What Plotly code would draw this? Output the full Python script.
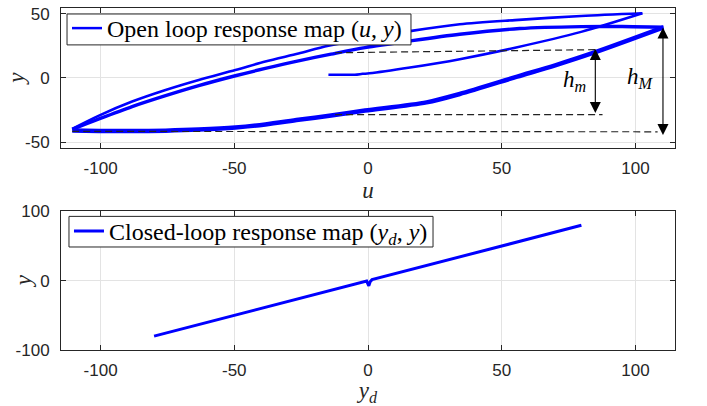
import plotly.graph_objects as go

# ---------------- data: top panel (open loop hysteresis) ----------------
u_init = [-14.8, -4.9, -2.0, 0.5, 15.7, 34.3, 55.0, 79.7, 102.6]
y_init = [2.5, 2.5, 3.2, 3.6, 8.1, 14.6, 23.5, 35.8, 50.3]

u_first_down = [102.6, 79.7, 55.0, 34.3, 16.3, -14.8, -26.0, -38.4, -49.6, -63.3, -75.7, -88.2, -100.6, -110.6]
y_first_down = [50.3, 48.2, 45.0, 41.8, 36.6, 25.0, 19.0, 12.8, 6.1, -1.6, -9.4, -18.4, -29.3, -39.6]

u_lower = [-110.6, -100.6, -88.2, -75.7, -63.3, -49.6, -38.4, -26.0, -13.8, -1.1, 21.9, 34.3, 55.8, 70.0, 84.7, 110.5]
y_lower = [-40.8, -41.2, -41.3, -41.0, -40.2, -38.6, -36.2, -32.6, -29.2, -25.4, -19.0, -12.5, 1.0, 9.8, 19.8, 39.3]

u_upper = [110.5, 95.0, 79.7, 56.7, 34.3, 15.7, -1.1, -13.8, -26.0, -38.4, -49.6, -63.3, -75.7, -88.2, -100.6, -110.6]
y_upper = [39.4, 40.0, 39.9, 38.4, 34.0, 28.8, 23.6, 18.5, 13.3, 7.4, 1.7, -6.0, -13.8, -22.3, -31.9, -40.0]

# dashed guide lines
u_d1 = [-12.3, 86.0]
y_d1 = [19.6, 22.0]
u_d2 = [-12.3, 87.7]
y_d2 = [-28.5, -28.5]
u_d3 = [-110.6, 108.3]
y_d3 = [-41.6, -41.9]

# double arrows (u, y_top, y_bottom)
arrow_hm = (85.0, 22.5, -28.4)
arrow_hM = (110.3, 39.3, -45.5)

# ---------------- data: bottom panel (closed loop) ----------------
yd_cl = [-80.0, -40.0, -0.5, 0.3, 0.8, 1.5, 40.0, 79.8]
y_cl = [-80.0, -40.0, -0.5, -7.5, -1.5, 1.5, 40.0, 80.0]

x_ticks = [-100, -50, 0, 50, 100]
x_ticktext = ["-100", "-50", "0", "50", "100"]
y_ticks_top = [-50, 0, 50]
y_ticktext_top = ["-50", "0", "50"]
y_ticks_bot = [-100, 0, 100]
y_ticktext_bot = ["-100", "0", "100"]

BLUE = "#0000ff"
AX = "#262626"
GRID = "#e3e3e3"

fig = go.Figure()

# top panel traces
fig.add_trace(go.Scatter(
    x=u_init, y=y_init, mode="lines",
    line=dict(color=BLUE, width=2.5, shape="spline", smoothing=0.8),
    name="Open loop response map (<i>u</i>, <i>y</i>)",
    xaxis="x", yaxis="y", legend="legend"))
fig.add_trace(go.Scatter(x=u_first_down, y=y_first_down, mode="lines",
                         line=dict(color=BLUE, width=2.6, shape="spline", smoothing=0.8),
                         showlegend=False, xaxis="x", yaxis="y"))
fig.add_trace(go.Scatter(x=u_lower, y=y_lower, mode="lines",
                         line=dict(color=BLUE, width=4.5, shape="spline", smoothing=0.8),
                         showlegend=False, xaxis="x", yaxis="y"))
fig.add_trace(go.Scatter(x=u_upper, y=y_upper, mode="lines",
                         line=dict(color=BLUE, width=3.4, shape="spline", smoothing=0.8),
                         showlegend=False, xaxis="x", yaxis="y"))
for ux, yy in [(u_d1, y_d1), (u_d2, y_d2), (u_d3, y_d3)]:
    fig.add_trace(go.Scatter(x=ux, y=yy, mode="lines",
                             line=dict(color="#222222", width=1.2, dash="7px,4px"),
                             showlegend=False, xaxis="x", yaxis="y"))

# bottom panel trace
fig.add_trace(go.Scatter(
    x=yd_cl, y=y_cl, mode="lines", line=dict(color=BLUE, width=3),
    name="Closed-loop response map (<i>y</i><sub><i>d</i></sub>, <i>y</i>)",
    xaxis="x2", yaxis="y2", legend="legend2"))

# arrows
for (ua, yt, yb) in [arrow_hm, arrow_hM]:
    fig.add_annotation(x=ua, y=yt, ax=ua, ay=yb, xref="x", yref="y",
                       axref="x", ayref="y", showarrow=True, text="",
                       arrowhead=2, arrowside="end+start", arrowsize=2.0,
                       arrowwidth=1.1, arrowcolor="black")

lab_font = dict(family="Liberation Serif", size=23, color="black")
fig.add_annotation(x=77.2, y=-2.2, xref="x", yref="y", showarrow=False,
                   text="<i>h</i><sub><i>m</i></sub>", font=lab_font)
fig.add_annotation(x=101.9, y=0.0, xref="x", yref="y", showarrow=False,
                   text="<i>h</i><sub><i>M</i></sub>", font=lab_font)

tick_font = dict(family="Liberation Sans", size=17, color=AX)
title_font = dict(family="Liberation Serif", size=23, color=AX)

# y-axis titles placed as annotations (paper coords)
fig.add_annotation(x=-0.0717, y=0.796, xref="paper", yref="paper", showarrow=False,
                   xanchor="center", yanchor="middle",
                   text="<i>y</i>", textangle=-90, font=title_font)
fig.add_annotation(x=-0.0619, y=0.204, xref="paper", yref="paper", showarrow=False,
                   xanchor="center", yanchor="middle",
                   text="<i>y</i>", textangle=-90, font=title_font)

# legend boxes (white, bordered, covering the curves like the original)
fig.add_shape(type="rect", xref="paper", yref="paper", x0=0.0098, x1=0.570,
              y0=0.8921, y1=0.9825, fillcolor="white", line=dict(color=AX, width=1),
              layer="above")
fig.add_shape(type="rect", xref="paper", yref="paper", x0=0.013, x1=0.6059,
              y0=0.3012, y1=0.3907, fillcolor="white", line=dict(color=AX, width=1),
              layer="above")

common_x = dict(range=[-114.8, 114.8], tickvals=x_ticks, ticktext=x_ticktext,
                ticks="inside", ticklen=5, tickcolor=AX, showline=True, linecolor=AX,
                linewidth=1, mirror="ticks", showgrid=True, gridcolor=GRID, gridwidth=1,
                zeroline=False, tickfont=tick_font, automargin=False,
                ticklabelstandoff=5)
common_y = dict(ticks="inside", ticklen=5, tickcolor=AX, showline=True, linecolor=AX,
                linewidth=1, mirror="ticks", showgrid=True, gridcolor=GRID, gridwidth=1,
                zeroline=False, tickfont=tick_font, automargin=False,
                ticklabelstandoff=7)

leg_font = dict(family="Liberation Serif", size=24, color="black")

fig.update_layout(
    width=707, height=406,
    margin=dict(l=61, r=32, t=7, b=56),
    paper_bgcolor="white", plot_bgcolor="white",
    xaxis=dict(common_x, domain=[0, 1], anchor="y",
               title=dict(text="<i>u</i>", font=title_font, standoff=0)),
    yaxis=dict(common_y, domain=[0.5918, 1], anchor="x", range=[-54.2, 54.4],
               tickvals=y_ticks_top, ticktext=y_ticktext_top),
    xaxis2=dict(common_x, domain=[0, 1], anchor="y2",
                title=dict(text="<i>y</i><sub><i>d</i></sub>", font=title_font, standoff=0)),
    yaxis2=dict(common_y, domain=[0, 0.4052], anchor="x2", range=[-100, 100],
                tickvals=y_ticks_bot, ticktext=y_ticktext_bot),
    legend=dict(x=0.0098, y=0.9373, xanchor="left", yanchor="middle",
                bgcolor="rgba(0,0,0,0)", borderwidth=0, font=leg_font),
    legend2=dict(x=0.013, y=0.346, xanchor="left", yanchor="middle",
                 bgcolor="rgba(0,0,0,0)", borderwidth=0, font=leg_font),
)

fig.write_html("out.html", config={"displayModeBar": False},
               post_script="document.body.style.margin='0px';")
